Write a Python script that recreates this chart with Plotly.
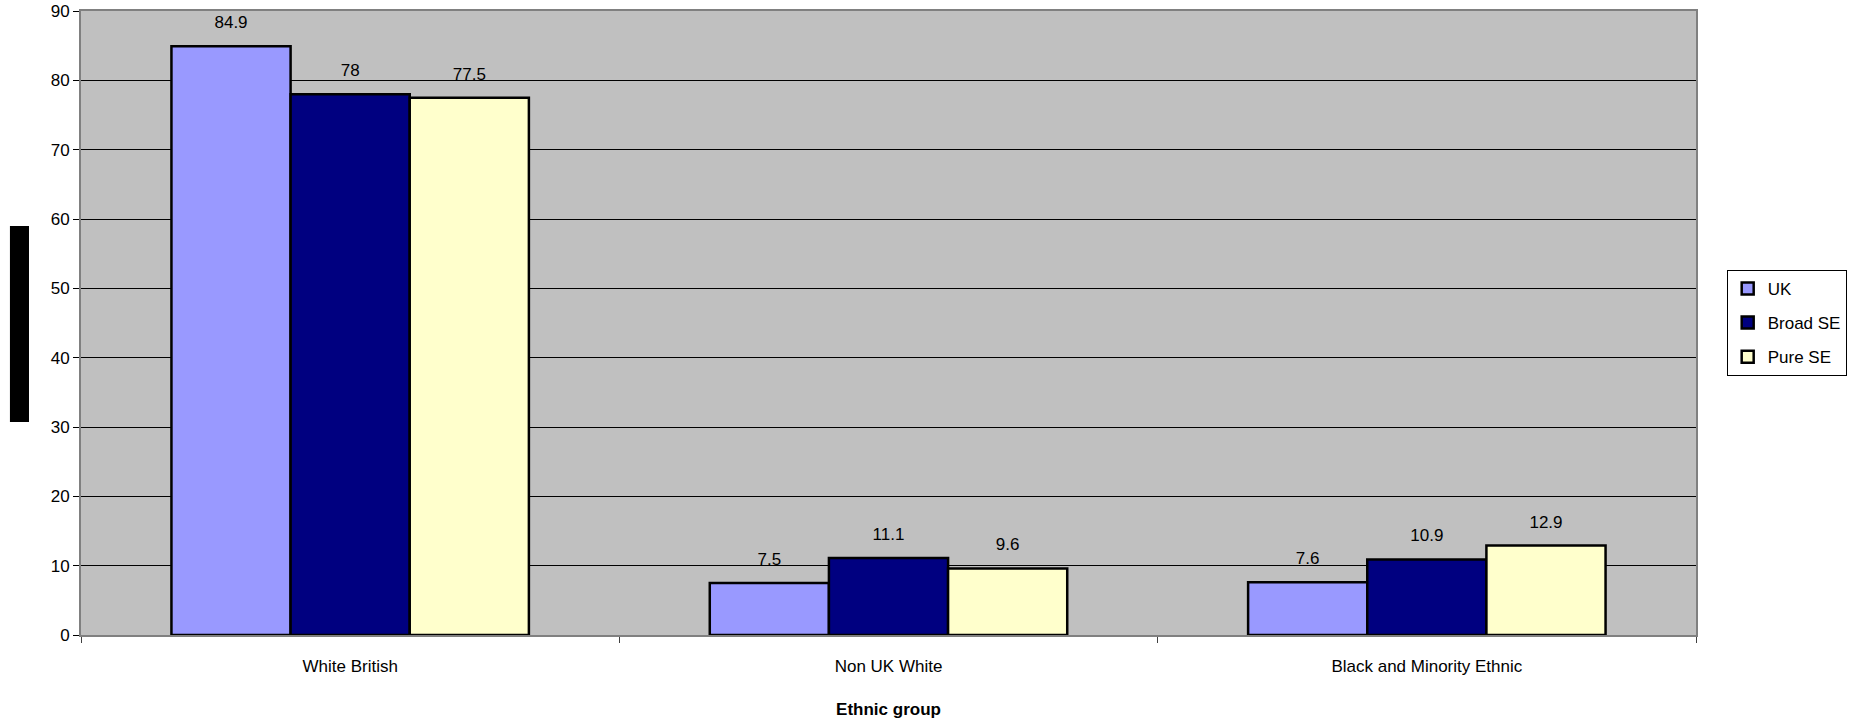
import plotly.graph_objects as go

categories = ["White British", "Non UK White", "Black and Minority Ethnic"]
series_names = ["UK", "Broad SE", "Pure SE"]
uk_values = [84.9, 7.5, 7.6]
broad_se_values = [78, 11.1, 10.9]
pure_se_values = [77.5, 9.6, 12.9]
y_ticks = [0, 10, 20, 30, 40, 50, 60, 70, 80, 90]
x_title = "Ethnic group"

colors = ["#9999FF", "#000080", "#FFFFCC"]
FONT = "Liberation Sans, Arial, sans-serif"

fig = go.Figure()
for i, (name, vals, col) in enumerate(zip(series_names,
                                          [uk_values, broad_se_values, pure_se_values],
                                          colors)):
    fig.add_trace(go.Bar(
        x=categories, y=vals, name=name, legendgroup=name,
        marker=dict(color=col, line=dict(color="black", width=2.5)),
        text=[str(v) for v in vals],
        texttemplate="<span style='font-size:17px'>%{text}</span><br>&nbsp;",
        textposition="outside",
        textfont=dict(family=FONT, size=10, color="black"),
        cliponaxis=False,
    ))

fig.update_layout(
    width=1854, height=723,
    margin=dict(l=81, r=158, t=11, b=88, autoexpand=False),
    paper_bgcolor="white",
    plot_bgcolor="#C0C0C0",
    barmode="group",
    bargap=0.336, bargroupgap=0,
    font=dict(family=FONT, size=17, color="black"),
    showlegend=True,
    legend=dict(
        x=1.019, y=0.585, xanchor="left", yanchor="top",
        bgcolor="white", bordercolor="black", borderwidth=1,
        font=dict(family=FONT, size=17, color="black"),
        tracegroupgap=9,
    ),
    xaxis=dict(
        automargin=False,
        showgrid=False, ticks="outside", tickson="boundaries", ticklen=6,
        tickcolor="#404040", showline=True, linecolor="#808080", linewidth=2,
        mirror=True, tickfont=dict(family=FONT, size=17), ticklabelstandoff=15,
        title=dict(text="<b>" + x_title + "</b>", font=dict(family=FONT, size=17), standoff=28),
    ),
    yaxis=dict(
        automargin=False,
        range=[0, 90], tickvals=y_ticks, showgrid=True, gridcolor="black", gridwidth=1,
        ticks="outside", ticklen=6, tickcolor="black",
        showline=True, linecolor="#808080", linewidth=2, mirror=True,
        tickfont=dict(family=FONT, size=17), zeroline=False,
    ),
    shapes=[dict(type="rect", xref="paper", yref="paper",
                 x0=-0.0440, x1=-0.0322, y0=0.3413, y1=0.6554,
                 fillcolor="black", line=dict(width=0))],
)

fig.write_html("out.html")
